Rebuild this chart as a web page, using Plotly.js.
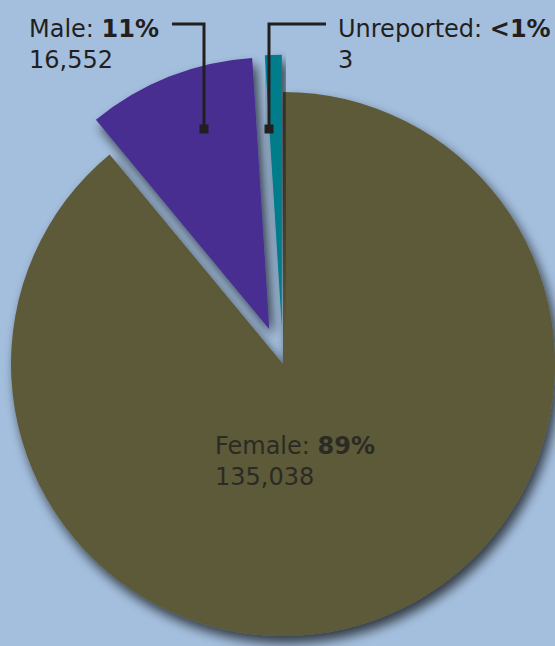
<!DOCTYPE html>
<html>
<head>
<meta charset="utf-8">
<script src="https://cdn.plot.ly/plotly-3.0.1.min.js"></script>
<style>
  html, body { margin:0; padding:0; width:555px; height:646px; overflow:hidden; background:#a4bfde; }
  #chart { position:absolute; left:-40px; top:0; width:640px; height:700px; }
</style>
</head>
<body>
<div id="chart"></div>
<script>
// ---- data (as drawn in the picture) ----
var categories = ["Female", "Male", "Unreported"];
var sliceShares = [89, 10, 1];          // slice sizes as drawn (percent of circle)
var shareLabels = ["89%", "11%", "<1%"]; // percentage labels as printed
var counts = ["135,038", "16,552", "3"];  // counts as printed
var pulls = [0, 0.137, 0.137];
var colors = ["#5c5a38", "#472f90", "#007b8a"];

// ---- geometry helpers (div is 640x700, shifted 40px left) ----
var W = 640, H = 700, SHIFT = 40;
function px(x) { return (x + SHIFT) / W; }
function py(y) { return 1 - y / H; }
var cx = 283, cy = 364, r = 272, maxPull = 0.137;
var half = r * (1 + maxPull);

var trace = {
  type: "pie",
  labels: categories,
  values: sliceShares,
  pull: pulls,
  sort: false,
  direction: "clockwise",
  rotation: 0,
  marker: { colors: colors, line: { width: 0 } },
  textinfo: "none",
  hoverinfo: "none",
  showlegend: false,
  domain: { x: [px(cx - half), px(cx + half)], y: [py(cy + half), py(cy - half)] }
};

var txtColor = "#231f20";
var fnt = { family: "DejaVu Sans", size: 24, color: txtColor };

var annotations = [
  { text: categories[1] + ": <b>" + shareLabels[1] + "</b><br>" + counts[1],
    x: px(27), y: py(45), xanchor: "left", yanchor: "middle", align: "left" },
  { text: categories[2] + ": <b>" + shareLabels[2] + "</b><br>" + counts[2],
    x: px(336), y: py(45), xanchor: "left", yanchor: "middle", align: "left" },
  { text: categories[0] + ": <b>" + shareLabels[0] + "</b><br>" + counts[0],
    x: px(213), y: py(461), xanchor: "left", yanchor: "middle", align: "left",
    font: { family: "DejaVu Sans", size: 24, color: "#2b2a24" } }
].map(function (a) {
  return Object.assign({ xref: "paper", yref: "paper", showarrow: false, font: fnt }, a);
});

function pathPx(pts) {
  return pts.map(function (p, i) { return (i ? "L" : "M") + px(p[0]) + "," + py(p[1]); }).join(" ");
}
function sq(x, y, s) {
  return { type: "rect", xref: "paper", yref: "paper",
    x0: px(x - s / 2), x1: px(x + s / 2), y0: py(y + s / 2), y1: py(y - s / 2),
    fillcolor: txtColor, line: { width: 0 } };
}
var shapes = [
  { type: "path", xref: "paper", yref: "paper", path: pathPx([[172, 24], [204, 24], [204, 128]]),
    line: { color: txtColor, width: 3 } },
  { type: "path", xref: "paper", yref: "paper", path: pathPx([[326, 24], [269, 24], [269, 128]]),
    line: { color: txtColor, width: 3 } },
  sq(204, 129, 9),
  sq(269, 129, 9)
];

var layout = {
  width: W, height: H,
  margin: { l: 0, r: 0, t: 0, b: 0 },
  paper_bgcolor: "#a4bfde",
  plot_bgcolor: "#a4bfde",
  annotations: annotations,
  shapes: shapes,
  showlegend: false
};

Plotly.newPlot("chart", [trace], layout, { staticPlot: true }).then(function (gd) {
  var svg = gd.querySelector("svg.main-svg");
  var ns = "http://www.w3.org/2000/svg";
  var defs = svg.querySelector("defs") || svg.insertBefore(document.createElementNS(ns, "defs"), svg.firstChild);
  var f = document.createElementNS(ns, "filter");
  f.setAttribute("id", "sliceShadow");
  f.setAttribute("x", "-20%"); f.setAttribute("y", "-20%");
  f.setAttribute("width", "140%"); f.setAttribute("height", "140%");
  f.innerHTML =
    '<feGaussianBlur in="SourceAlpha" stdDeviation="6"/>' +
    '<feOffset dx="4" dy="7" result="ob"/>' +
    '<feComponentTransfer><feFuncA type="linear" slope="0.7"/></feComponentTransfer>' +
    '<feMerge><feMergeNode/><feMergeNode in="SourceGraphic"/></feMerge>';
  defs.appendChild(f);
  gd.querySelectorAll(".pielayer g.slice").forEach(function (g) {
    g.setAttribute("filter", "url(#sliceShadow)");
  });
});
</script>
</body>
</html>
